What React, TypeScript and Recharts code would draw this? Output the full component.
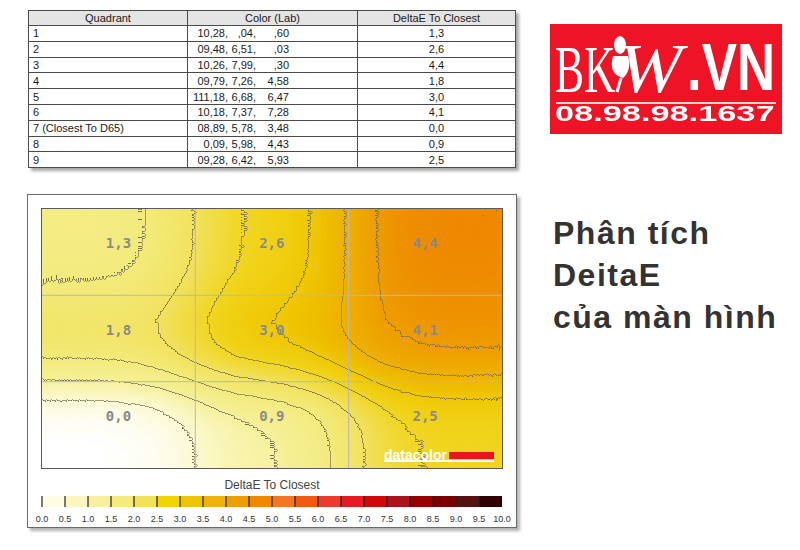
import { Bar, BarChart, Cell, LabelList, ReferenceLine, XAxis, YAxis } from 'recharts'

// table rows (quadrant order 1..9)
const quadrantNames = ['1', '2', '3', '4', '5', '6', '7 (Closest To D65)', '8', '9']
const labL = ['10,28,', '09,48,', '10,26,', '09,79,', '111,18,', '10,18,', '08,89,', '0,09,', '09,28,']
const labA = [',04,', '6,51,', '7,99,', '7,26,', '6,68,', '7,37,', '5,78,', '5,98,', '6,42,']
const labB = [',60', ',03', ',30', '4,58', '6,47', '7,28', '3,48', '4,43', '5,93']

// uniformity grid, DeltaE to closest quadrant
const gridColumns = ['left', 'center', 'right']
const topRow = [1.3, 2.6, 4.4]
const middleRow = [1.8, 3.0, 4.1]
const bottomRow = [0.0, 0.9, 2.5]

// colour scale legend
const legendTicks = [0, 0.5, 1, 1.5, 2, 2.5, 3, 3.5, 4, 4.5, 5, 5.5, 6, 6.5, 7, 7.5, 8, 8.5, 9, 9.5, 10]
const legendColors = [
  '#fffce4', '#fbf6c0', '#f7f09c', '#f4ea7e', '#f2e25a', '#f1d400', '#efc400', '#efb20a', '#ef9e00', '#ef8a00',
  '#f27624', '#f05a12', '#ee3a2a', '#e41c22', '#d00808', '#a8141c', '#980000', '#780000', '#561010', '#300000'
]

// heat surface colours for DeltaE 0, 0.5 ... 5.0
const heatScale = [
  '#ffffff', '#fcf9cc', '#f6f096', '#f3ea78', '#f2e15a', '#f1d51e', '#efc600', '#efb000', '#ef9a00', '#ef8400', '#ee7000'
]
const HEAT_MAX = 5

const fmt = (v: number) => v.toFixed(1).replace('.', ',')
const deltaByQuadrant = [...topRow, ...middleRow, ...bottomRow]

const rows = [
  { key: 'bottom', values: bottomRow },
  { key: 'middle', values: middleRow },
  { key: 'top', values: topRow }
]

const gridData = gridColumns.map((column, i) => ({
  column,
  bottom: 1,
  middle: 1,
  top: 1,
  bottomValue: bottomRow[i],
  middleValue: middleRow[i],
  topValue: topRow[i]
}))

const legendData = [
  legendColors.reduce<Record<string, number | string>>(
    (row, _c, i) => ({ ...row, [`b${i}`]: legendTicks[i + 1] - legendTicks[i] }),
    { name: 'scale' }
  )
]

const toGray = (v: number) => {
  const g = Math.round((Math.min(v, HEAT_MAX) / HEAT_MAX) * 255)
  return `rgb(${g},${g},${g})`
}

const channel = (idx: number) =>
  heatScale.map((hex) => (parseInt(hex.slice(1 + idx * 2, 3 + idx * 2), 16) / 255).toFixed(3)).join(' ')

// one band per 0.5 DeltaE
const bandSteps = Array.from({ length: 10 }, (_, i) => (i / 10).toFixed(1)).join(' ')

const SANS = '"Liberation Sans", Arial, sans-serif'

function CellLabel(props: any) {
  const box = props.viewBox ?? props
  const x = Number(box.x) + Number(box.width) / 2
  const y = Number(box.y) + Number(box.height) / 2 - 9
  return (
    <text
      x={x}
      y={y}
      textAnchor="middle"
      dominantBaseline="central"
      fontFamily='"DejaVu Sans Mono", monospace'
      fontWeight="bold"
      fontSize={14}
      fill="#8a8a8a"
    >
      {fmt(Number(props.value))}
    </text>
  )
}

function HeatFilter() {
  return (
    <svg width={0} height={0} style={{ position: 'absolute' }}>
      <defs>
        <filter id="heatField" x="0" y="0" width="1" height="1" colorInterpolationFilters="sRGB">
          <feGaussianBlur in="SourceGraphic" stdDeviation="44 28" result="blur" />
          <feComponentTransfer in="blur" result="field">
            <feFuncA type="linear" slope="255" intercept="0" />
          </feComponentTransfer>
          <feComponentTransfer in="field" result="heat">
            <feFuncR type="table" tableValues={channel(0)} />
            <feFuncG type="table" tableValues={channel(1)} />
            <feFuncB type="table" tableValues={channel(2)} />
          </feComponentTransfer>
          <feComponentTransfer in="field" result="shifted">
            <feFuncR type="linear" slope="1" intercept="0.012" />
          </feComponentTransfer>
          <feComponentTransfer in="shifted" result="bands">
            <feFuncR type="discrete" tableValues={bandSteps} />
          </feComponentTransfer>
          <feConvolveMatrix
            in="bands"
            order="3"
            kernelMatrix="0 -1 0 -1 4 -1 0 -1 0"
            divisor="1"
            preserveAlpha="true"
            edgeMode="duplicate"
            result="edges"
          />
          <feColorMatrix
            in="edges"
            type="matrix"
            values="0 0 0 0 0.46  0 0 0 0 0.44  0 0 0 0 0.34  7 0 0 0 0"
            result="linesRaw"
          />
          <feGaussianBlur in="linesRaw" stdDeviation="0.4" result="lines" />
          <feMerge>
            <feMergeNode in="heat" />
            <feMergeNode in="lines" />
          </feMerge>
        </filter>
      </defs>
    </svg>
  )
}

function LabTable() {
  const cell = { border: '1px solid #4a4a4a', padding: '0 4px', whiteSpace: 'nowrap' as const }
  return (
    <table
      style={{
        position: 'absolute',
        left: 28,
        top: 10,
        width: 487,
        borderCollapse: 'collapse',
        tableLayout: 'fixed',
        fontFamily: SANS,
        fontSize: 11,
        color: '#1a1a1a',
        boxShadow: '3px 3px 3px rgba(0,0,0,0.35)',
        background: '#fff'
      }}
    >
      <colgroup>
        <col style={{ width: 159 }} />
        <col style={{ width: 170 }} />
        <col style={{ width: 158 }} />
      </colgroup>
      <thead>
        <tr style={{ height: 15, background: '#e4e4e4' }}>
          <th style={{ ...cell, fontWeight: 'normal' }}>Quadrant</th>
          <th style={{ ...cell, fontWeight: 'normal' }}>Color (Lab)</th>
          <th style={{ ...cell, fontWeight: 'normal' }}>DeltaE To Closest</th>
        </tr>
      </thead>
      <tbody>
        {quadrantNames.map((name, i) => (
          <tr key={name} style={{ height: 15.8 }}>
            <td style={cell}>{name}</td>
            <td style={{ ...cell, padding: 0 }}>
              <span style={{ display: 'inline-block', width: 40, textAlign: 'right' }}>{labL[i]}</span>
              <span style={{ display: 'inline-block', width: 28, textAlign: 'right' }}>{labA[i]}</span>
              <span style={{ display: 'inline-block', width: 33, textAlign: 'right' }}>{labB[i]}</span>
            </td>
            <td style={{ ...cell, textAlign: 'center' }}>{fmt(deltaByQuadrant[i])}</td>
          </tr>
        ))}
      </tbody>
    </table>
  )
}

function Logo() {
  return (
    <div
      style={{
        position: 'absolute',
        left: 550,
        top: 24,
        width: 232,
        height: 110,
        background: '#ee1426',
        overflow: 'hidden',
        color: '#fff'
      }}
    >
      <span
        style={{
          position: 'absolute',
          left: 5,
          top: 11,
          fontFamily: '"Liberation Serif", serif',
          fontSize: 68,
          lineHeight: 1,
          transform: 'scaleX(0.64)',
          transformOrigin: 'left'
        }}
      >
        BK
      </span>
      <svg width={232} height={110} style={{ position: 'absolute', left: 0, top: 0 }}>
        <ellipse cx={70} cy={21} rx={6} ry={9} fill="#fff" />
        <path d="M63 32 Q58 50 73 54 Q82 46 78 32 Z" fill="#fff" />
        <path d="M71 54 L67 68" stroke="#fff" strokeWidth={3} />
      </svg>
      <span
        style={{
          position: 'absolute',
          left: 68,
          top: 10,
          fontFamily: '"Liberation Serif", serif',
          fontStyle: 'italic',
          fontSize: 70,
          lineHeight: 1,
          transform: 'scaleX(1.1)',
          transformOrigin: 'left'
        }}
      >
        W
      </span>
      <span
        style={{
          position: 'absolute',
          left: 137,
          top: 10,
          fontFamily: SANS,
          fontWeight: 'bold',
          fontSize: 66,
          lineHeight: 1,
          transform: 'scaleX(0.8)',
          transformOrigin: 'left'
        }}
      >
        .VN
      </span>
      <div style={{ position: 'absolute', left: 6, top: 78, width: 220, height: 1.5, background: '#f8d8d8' }} />
      <span
        style={{
          position: 'absolute',
          left: 5,
          top: 79,
          fontFamily: SANS,
          fontWeight: 'bold',
          fontSize: 22,
          lineHeight: 1,
          transform: 'scaleX(1.56)',
          transformOrigin: 'left'
        }}
      >
        08.98.98.1637
      </span>
    </div>
  )
}

export default function App() {
  return (
    <div style={{ position: 'absolute', left: 0, top: 0, width: 800, height: 550, background: '#fff', fontFamily: SANS }}>
      <HeatFilter />
      <LabTable />
      <Logo />

      <div
        style={{
          position: 'absolute',
          left: 553,
          top: 212,
          fontSize: 32,
          lineHeight: '42px',
          fontWeight: 'bold',
          color: '#333',
          letterSpacing: 1.5
        }}
      >
        <div>Phân tích</div>
        <div>DeitaE</div>
        <div>của màn hình</div>
      </div>

      {/* chart panel */}
      <div
        style={{
          position: 'absolute',
          left: 27,
          top: 194,
          width: 488,
          height: 332,
          border: '1px solid #6a6a6a',
          boxShadow: '3px 3px 3px rgba(0,0,0,0.3)',
          background: '#fff'
        }}
      />

      <div style={{ position: 'absolute', left: 42, top: 209, width: 460, height: 259, filter: 'url(#heatField)' }}>
        <BarChart width={460} height={259} data={gridData} margin={{ top: 0, right: 0, bottom: 0, left: 0 }} barCategoryGap={0}>
          <XAxis dataKey="column" hide />
          <YAxis type="number" domain={[0, 3]} hide />
          {rows.map((row) => (
            <Bar key={row.key} dataKey={row.key} stackId="cells" isAnimationActive={false}>
              {row.values.map((v, i) => (
                <Cell key={i} fill={toGray(v)} />
              ))}
            </Bar>
          ))}
        </BarChart>
      </div>

      <div
        style={{
          position: 'absolute',
          left: 41,
          top: 208,
          width: 460,
          height: 259,
          border: '1px solid #5a5a5a'
        }}
      />

      <div style={{ position: 'absolute', left: 42, top: 209 }}>
        <BarChart width={460} height={259} data={gridData} margin={{ top: 0, right: 0, bottom: 0, left: 0 }} barCategoryGap={0}>
          <XAxis dataKey="column" hide />
          <YAxis type="number" domain={[0, 3]} hide />
          <ReferenceLine y={1} stroke="#b8b8b8" />
          <ReferenceLine y={2} stroke="#b8b8b8" />
          <ReferenceLine x="center" position="start" stroke="#b8b8b8" />
          <ReferenceLine x="right" position="start" stroke="#b8b8b8" />
          {rows.map((row) => (
            <Bar key={row.key} dataKey={row.key} stackId="cells" fill="transparent" isAnimationActive={false}>
              <LabelList dataKey={`${row.key}Value`} content={CellLabel} />
            </Bar>
          ))}
        </BarChart>
      </div>

      {/* datacolor mark */}
      <div
        style={{
          position: 'absolute',
          left: 384,
          top: 448,
          fontSize: 14,
          lineHeight: '14px',
          fontWeight: 'bold',
          color: '#fff'
        }}
      >
        datacolor
      </div>
      <div style={{ position: 'absolute', left: 449, top: 452, width: 45, height: 7, background: '#e8141e' }} />
      <div style={{ position: 'absolute', left: 384, top: 460, width: 110, height: 1.5, background: '#fff' }} />

      <div
        style={{
          position: 'absolute',
          left: 42,
          top: 478,
          width: 460,
          textAlign: 'center',
          fontSize: 12,
          color: '#444'
        }}
      >
        DeltaE To Closest
      </div>

      <div style={{ position: 'absolute', left: 30, top: 496 }}>
        <BarChart
          width={484}
          height={29}
          layout="vertical"
          data={legendData}
          margin={{ top: 0, right: 12, bottom: 0, left: 12 }}
          barCategoryGap={0}
        >
          <XAxis
            type="number"
            domain={[0, 10]}
            ticks={legendTicks}
            interval={0}
            axisLine={false}
            tickLine={false}
            tickMargin={3}
            height={18}
            tick={{ fontSize: 9, fill: '#333' }}
            tickFormatter={(v: number) => v.toFixed(1)}
          />
          <YAxis type="category" dataKey="name" hide />
          {legendColors.map((c, i) => (
            <Bar key={i} dataKey={`b${i}`} stackId="scale" fill={c} isAnimationActive={false} />
          ))}
          {legendTicks.slice(0, -1).map((t) => (
            <ReferenceLine key={t} x={t} stroke="#222" strokeWidth={1.2} />
          ))}
        </BarChart>
      </div>
    </div>
  )
}
